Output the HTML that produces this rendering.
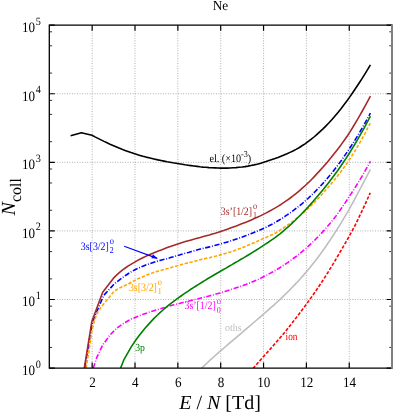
<!DOCTYPE html>
<html><head><meta charset="utf-8"><title>Ne</title>
<style>
html,body{margin:0;padding:0;background:#fff;}
svg{display:block;will-change:transform;}
text{font-family:"Liberation Serif","DejaVu Serif",serif;text-rendering:geometricPrecision;}
</style></head><body>
<svg width="393" height="415" viewBox="0 0 393 415">
<rect width="393" height="415" fill="#fff"/>
<g stroke="#8c8c8c" stroke-width="0.75" stroke-dasharray="0.9 1.625" fill="none"><line x1="92.15" y1="25.15" x2="92.15" y2="368.1"/><line x1="135.00" y1="25.15" x2="135.00" y2="368.1"/><line x1="177.85" y1="25.15" x2="177.85" y2="368.1"/><line x1="220.70" y1="25.15" x2="220.70" y2="368.1"/><line x1="263.55" y1="25.15" x2="263.55" y2="368.1"/><line x1="306.40" y1="25.15" x2="306.40" y2="368.1"/><line x1="349.25" y1="25.15" x2="349.25" y2="368.1"/><line x1="49.3" y1="299.51" x2="392.1" y2="299.51"/><line x1="49.3" y1="230.92" x2="392.1" y2="230.92"/><line x1="49.3" y1="162.33" x2="392.1" y2="162.33"/><line x1="49.3" y1="93.74" x2="392.1" y2="93.74"/></g>
<defs><clipPath id="c"><rect x="49.30" y="25.15" width="342.80" height="342.95"/></clipPath></defs>
<g fill="none" stroke-width="1.6" stroke-linejoin="round" clip-path="url(#c)">
<polyline stroke="#000000" points="70.6,135.7 81.4,132.8 92.0,135.3 95.0,136.9 98.0,138.4 101.0,139.9 104.0,141.4 107.0,142.8 110.0,144.2 113.0,145.5 116.0,146.8 119.0,148.1 122.0,149.3 125.0,150.4 128.0,151.5 131.0,152.6 134.0,153.6 137.0,154.5 140.0,155.4 143.0,156.3 146.0,157.1 149.0,157.8 152.0,158.5 155.0,159.2 158.0,159.9 161.0,160.5 164.0,161.1 167.0,161.7 170.0,162.2 173.0,162.8 176.0,163.3 179.0,163.8 182.0,164.3 185.0,164.8 188.0,165.2 191.0,165.6 194.0,166.0 197.0,166.4 200.0,166.8 203.0,167.1 206.0,167.3 209.0,167.6 212.0,167.8 215.0,167.9 218.0,168.0 221.0,168.1 224.0,168.1 227.0,168.1 230.0,168.0 233.0,167.8 236.0,167.6 239.0,167.3 242.0,167.0 245.0,166.6 248.0,166.1 251.0,165.5 254.0,164.9 257.0,164.2 260.0,163.4 263.0,162.5 266.0,161.6 269.0,160.6 272.0,159.6 275.0,158.6 278.0,157.5 281.0,156.3 284.0,155.1 287.0,153.8 290.0,152.4 293.0,151.0 296.0,149.4 299.0,147.7 302.0,145.8 305.0,143.9 308.0,141.7 311.0,139.4 314.0,137.0 317.0,134.4 320.0,131.7 323.0,128.9 326.0,125.9 329.0,122.8 332.0,119.5 335.0,116.0 338.0,112.4 341.0,108.7 344.0,104.8 347.0,100.8 350.0,96.6 353.0,92.3 356.0,87.8 359.0,83.3 362.0,78.6 365.0,73.8 368.0,68.9 370.4,64.9"/>
<polyline stroke="#0000ff" stroke-dasharray="5.2 1.7 0.9 1.7" points="84.8,368.1 92.4,322.2 103.6,295.6 113.5,284.7 116.5,282.2 119.5,279.8 122.5,277.6 125.5,275.5 128.5,273.5 131.5,271.7 134.5,270.0 137.5,268.5 140.5,267.2 143.5,266.0 146.5,264.8 149.5,263.8 152.5,262.8 155.5,261.8 158.5,260.9 161.5,260.1 164.5,259.3 167.5,258.6 170.5,257.6 173.5,256.7 176.5,255.8 179.5,254.9 182.5,254.1 185.5,253.2 188.5,252.4 191.5,251.5 194.5,250.7 197.5,249.8 200.5,249.0 203.5,248.3 206.5,247.6 209.5,246.9 212.5,246.1 215.5,245.3 218.5,244.5 221.5,243.7 224.5,242.8 227.5,241.9 230.5,241.0 233.5,240.0 236.5,239.0 239.5,238.0 242.5,236.9 245.5,235.8 248.5,234.6 251.5,233.4 254.5,232.2 257.5,231.0 260.5,229.7 263.5,228.4 266.5,227.0 269.5,225.5 272.5,224.0 275.5,222.3 278.5,220.5 281.5,218.7 284.5,216.7 287.5,214.7 290.5,212.6 293.5,210.4 296.5,208.1 299.5,205.7 302.5,203.3 305.5,200.7 308.5,198.0 311.5,195.1 314.5,192.2 317.5,189.1 320.5,186.0 323.5,182.7 326.5,179.3 329.5,175.8 332.5,172.1 335.5,168.2 338.5,164.3 341.5,160.2 344.5,155.9 347.5,151.5 350.5,147.0 353.5,142.4 356.5,137.6 359.5,132.6 362.5,127.5 365.5,122.2 368.5,116.7 370.4,113.1"/>
<polyline stroke="#ffa500" stroke-dasharray="3.3 1.7" points="86.1,368.1 89.2,349.2 91.8,331.2 94.3,321.0 97.0,313.5 100.8,307.5 108.0,298.8 113.5,292.0 116.5,289.7 119.5,287.9 122.5,286.7 125.5,285.3 128.5,283.8 131.5,282.1 134.5,280.6 137.5,279.1 140.5,277.7 143.5,276.4 146.5,275.1 149.5,274.0 152.5,272.9 155.5,271.9 158.5,271.0 161.5,270.2 164.5,269.4 167.5,268.6 170.5,267.7 173.5,266.8 176.5,266.0 179.5,265.1 182.5,264.3 185.5,263.5 188.5,262.7 191.5,262.0 194.5,261.2 197.5,260.4 200.5,259.6 203.5,259.0 206.5,258.3 209.5,257.7 212.5,256.9 215.5,256.2 218.5,255.4 221.5,254.6 224.5,253.7 227.5,252.8 230.5,251.9 233.5,250.9 236.5,249.8 239.5,248.7 242.5,247.6 245.5,246.4 248.5,245.1 251.5,243.8 254.5,242.6 257.5,241.2 260.5,239.8 263.5,238.4 266.5,237.2 269.5,235.9 272.5,234.5 275.5,233.0 278.5,231.2 281.5,229.2 284.5,227.2 287.5,225.2 290.5,223.1 293.5,220.8 296.5,218.4 299.5,216.0 302.5,213.5 305.5,210.8 308.5,208.1 311.5,205.2 314.5,202.3 317.5,199.2 320.5,196.0 323.5,192.7 326.5,189.3 329.5,185.8 332.5,182.2 335.5,178.5 338.5,174.7 341.5,170.8 344.5,166.7 347.5,162.4 350.5,158.0 353.5,153.3 356.5,148.4 359.5,143.3 362.5,137.9 365.5,132.4 368.5,126.5 370.4,122.7"/>
<polyline stroke="#ff00ff" stroke-dasharray="5.2 1.7 0.9 1.7" points="93.3,368.1 96.7,357.7 102.5,345.4 109.7,335.3 116.9,328.1 124.1,323.0 131.4,319.0 138.0,316.3 141.0,315.0 144.0,314.0 147.0,313.0 150.0,311.9 153.0,310.9 156.0,310.0 159.0,309.1 162.0,308.2 165.0,307.4 168.0,306.5 171.0,305.6 174.0,304.8 177.0,304.0 180.0,303.3 183.0,302.5 186.0,301.7 189.0,301.0 192.0,300.2 195.0,299.5 198.0,298.8 201.0,298.0 204.0,297.2 207.0,296.5 210.0,295.7 213.0,294.9 216.0,294.0 219.0,293.2 222.0,292.3 225.0,291.4 228.0,290.5 231.0,289.6 234.0,288.6 237.0,287.6 240.0,286.6 243.0,285.5 246.0,284.4 249.0,283.2 252.0,282.0 255.0,280.7 258.0,279.4 261.0,278.0 264.0,276.5 267.0,275.0 270.0,273.4 273.0,271.7 276.0,270.0 279.0,268.2 282.0,266.3 285.0,264.3 288.0,262.3 291.0,260.2 294.0,258.0 297.0,255.7 300.0,253.3 303.0,250.8 306.0,248.3 309.0,245.6 312.0,242.8 315.0,239.9 318.0,236.8 321.0,233.7 324.0,230.4 327.0,227.0 330.0,223.4 333.0,219.7 336.0,215.9 339.0,211.8 342.0,207.5 345.0,203.1 348.0,198.5 351.0,193.9 354.0,189.3 357.0,184.5 360.0,179.6 363.0,174.5 366.0,169.2 369.0,163.9 370.4,161.3"/>
<polyline stroke="#a52a2a" points="84.3,368.1 91.9,321.2 102.7,292.2 113.3,278.4 116.3,275.4 119.3,272.7 122.3,270.2 125.3,268.0 128.3,265.9 131.3,264.1 134.3,262.4 137.3,260.6 140.3,259.0 143.3,257.5 146.3,256.1 149.3,254.8 152.3,253.5 155.3,252.3 158.3,251.1 161.3,249.9 164.3,248.7 167.3,247.6 170.3,246.6 173.3,245.5 176.3,244.5 179.3,243.5 182.3,242.5 185.3,241.6 188.3,240.7 191.3,239.9 194.3,239.1 197.3,238.2 200.3,237.4 203.3,236.6 206.3,235.7 209.3,234.9 212.3,234.0 215.3,233.2 218.3,232.3 221.3,231.3 224.3,230.3 227.3,229.2 230.3,228.1 233.3,227.0 236.3,225.9 239.3,224.7 242.3,223.6 245.3,222.4 248.3,221.2 251.3,219.9 254.3,218.6 257.3,217.3 260.3,215.9 263.3,214.4 266.3,212.9 269.3,211.3 272.3,209.6 275.3,207.9 278.3,206.1 281.3,204.2 284.3,202.2 287.3,200.1 290.3,198.0 293.3,195.7 296.3,193.3 299.3,190.8 302.3,188.2 305.3,185.5 308.3,182.7 311.3,179.7 314.3,176.6 317.3,173.4 320.3,170.1 323.3,166.8 326.3,163.4 329.3,159.8 332.3,156.1 335.3,152.3 338.3,148.4 341.3,144.4 344.3,140.2 347.3,136.0 350.3,131.4 353.3,126.5 356.3,121.4 359.3,116.3 362.3,111.0 365.3,105.6 368.3,100.1 370.4,96.2"/>
<polyline stroke="#008000" points="120.6,368.1 124.1,359.3 131.4,346.6 136.0,339.8 139.0,335.8 142.0,332.0 145.0,328.3 148.0,324.9 151.0,321.6 154.0,318.4 157.0,315.5 160.0,312.7 163.0,310.0 166.0,307.4 169.0,304.9 172.0,302.6 175.0,300.3 178.0,298.1 181.0,296.0 184.0,293.9 187.0,291.8 190.0,289.8 193.0,287.9 196.0,286.0 199.0,284.1 202.0,282.2 205.0,280.4 208.0,278.5 211.0,276.8 214.0,275.0 217.0,273.2 220.0,271.5 223.0,269.8 226.0,268.1 229.0,266.3 232.0,264.6 235.0,262.8 238.0,261.1 241.0,259.3 244.0,257.6 247.0,255.8 250.0,254.0 253.0,252.1 256.0,250.3 259.0,248.4 262.0,246.4 265.0,244.4 268.0,242.5 271.0,240.4 274.0,238.3 277.0,236.1 280.0,233.8 283.0,231.3 286.0,228.7 289.0,226.1 292.0,223.3 295.0,220.5 298.0,217.5 301.0,214.5 304.0,211.4 307.0,208.2 310.0,204.9 313.0,201.6 316.0,198.1 319.0,194.6 322.0,191.0 325.0,187.3 328.0,183.5 331.0,179.6 334.0,175.6 337.0,171.5 340.0,167.2 343.0,162.8 346.0,158.4 349.0,153.7 352.0,148.9 355.0,144.0 358.0,138.9 361.0,133.7 364.0,128.3 367.0,122.7 370.0,117.0 370.4,116.2"/>
<polyline stroke="#bebebe" points="201.6,368.1 204.6,365.3 207.6,362.5 210.6,359.7 213.6,357.0 216.6,354.3 219.6,351.7 222.6,349.1 225.6,346.5 228.6,343.9 231.6,341.3 234.6,338.8 237.6,336.3 240.6,333.8 243.6,331.2 246.6,328.6 249.6,326.1 252.6,323.5 255.6,321.0 258.6,318.4 261.6,315.8 264.6,313.2 267.6,310.6 270.6,307.9 273.6,305.3 276.6,302.5 279.6,299.8 282.6,296.9 285.6,294.0 288.6,291.1 291.6,288.0 294.6,284.9 297.6,281.7 300.6,278.5 303.6,275.1 306.6,271.6 309.6,268.0 312.6,264.3 315.6,260.4 318.6,256.5 321.6,252.4 324.6,248.2 327.6,243.8 330.6,239.4 333.6,234.8 336.6,230.1 339.6,225.3 342.6,220.4 345.6,215.4 348.6,210.3 351.6,204.9 354.6,199.3 357.6,193.7 360.6,188.0 363.6,182.4 366.6,176.7 369.6,170.8 370.4,169.3"/>
<polyline stroke="#ff0000" stroke-dasharray="3.3 1.7" points="253.0,368.6 256.0,365.2 259.0,361.7 262.0,358.3 265.0,354.9 268.0,351.6 271.0,348.2 274.0,344.8 277.0,341.3 280.0,337.9 283.0,334.4 286.0,330.8 289.0,327.0 292.0,323.2 295.0,319.3 298.0,315.4 301.0,311.4 304.0,307.4 307.0,303.4 310.0,299.2 313.0,295.0 316.0,290.7 319.0,286.2 322.0,281.7 325.0,277.1 328.0,272.3 331.0,267.4 334.0,262.5 337.0,257.4 340.0,252.2 343.0,247.1 346.0,241.9 349.0,236.5 352.0,231.1 355.0,225.5 358.0,219.3 361.0,213.1 364.0,206.7 367.0,200.1 370.0,193.4 370.3,192.8"/>
</g>
<path d="M92.15 368.1v-5.5M92.15 25.15v5.5M135.00 368.1v-5.5M135.00 25.15v5.5M177.85 368.1v-5.5M177.85 25.15v5.5M220.70 368.1v-5.5M220.70 25.15v5.5M263.55 368.1v-5.5M263.55 25.15v5.5M306.40 368.1v-5.5M306.40 25.15v5.5M349.25 368.1v-5.5M349.25 25.15v5.5M49.3 368.10h5.5M392.1 368.10h-5.5M49.3 299.51h5.5M392.1 299.51h-5.5M49.3 230.92h5.5M392.1 230.92h-5.5M49.3 162.33h5.5M392.1 162.33h-5.5M49.3 93.74h5.5M392.1 93.74h-5.5M49.3 25.15h5.5M392.1 25.15h-5.5" stroke="#000" stroke-width="1.2" fill="none"/>
<path d="M49.3 347.45h2.8M392.1 347.45h-2.8M49.3 320.16h2.8M392.1 320.16h-2.8M49.3 306.16h2.8M392.1 306.16h-2.8M49.3 278.86h2.8M392.1 278.86h-2.8M49.3 251.57h2.8M392.1 251.57h-2.8M49.3 237.57h2.8M392.1 237.57h-2.8M49.3 210.27h2.8M392.1 210.27h-2.8M49.3 182.98h2.8M392.1 182.98h-2.8M49.3 168.98h2.8M392.1 168.98h-2.8M49.3 141.68h2.8M392.1 141.68h-2.8M49.3 114.39h2.8M392.1 114.39h-2.8M49.3 100.39h2.8M392.1 100.39h-2.8M49.3 73.09h2.8M392.1 73.09h-2.8M49.3 45.80h2.8M392.1 45.80h-2.8M49.3 31.80h2.8M392.1 31.80h-2.8" stroke="#000" stroke-width="0.8" fill="none"/>
<path d="M49.3 24.5V368.75M48.65 25.15H392.5M48.65 368.1H392.5" stroke="#000" stroke-width="1.3" fill="none"/>
<rect x="391" y="24.5" width="2" height="344.25" fill="#808080"/>
<text transform="translate(220.5,9.6) scale(0.965,1)" font-size="13.8" text-anchor="middle">Ne</text>
<text transform="translate(92.45,386.9) scale(0.91,1)" font-size="14.4" text-anchor="middle">2</text>
<text transform="translate(135.30,386.9) scale(0.91,1)" font-size="14.4" text-anchor="middle">4</text>
<text transform="translate(178.15,386.9) scale(0.91,1)" font-size="14.4" text-anchor="middle">6</text>
<text transform="translate(221.00,386.9) scale(0.91,1)" font-size="14.4" text-anchor="middle">8</text>
<text transform="translate(263.85,386.9) scale(0.91,1)" font-size="14.4" text-anchor="middle">10</text>
<text transform="translate(306.70,386.9) scale(0.91,1)" font-size="14.4" text-anchor="middle">12</text>
<text transform="translate(349.55,386.9) scale(0.91,1)" font-size="14.4" text-anchor="middle">14</text>
<text transform="translate(22.0,374.90) scale(0.91,1)" font-size="14.4">10<tspan font-size="11.2" dx="0.6" dy="-7.3">0</tspan></text>
<text transform="translate(22.0,306.31) scale(0.91,1)" font-size="14.4">10<tspan font-size="11.2" dx="0.6" dy="-7.3">1</tspan></text>
<text transform="translate(22.0,237.72) scale(0.91,1)" font-size="14.4">10<tspan font-size="11.2" dx="0.6" dy="-7.3">2</tspan></text>
<text transform="translate(22.0,169.13) scale(0.91,1)" font-size="14.4">10<tspan font-size="11.2" dx="0.6" dy="-7.3">3</tspan></text>
<text transform="translate(22.0,100.54) scale(0.91,1)" font-size="14.4">10<tspan font-size="11.2" dx="0.6" dy="-7.3">4</tspan></text>
<text transform="translate(22.0,31.95) scale(0.91,1)" font-size="14.4">10<tspan font-size="11.2" dx="0.6" dy="-7.3">5</tspan></text>
<text x="220" y="408.8" font-size="20" text-anchor="middle"><tspan font-style="italic">E</tspan> / <tspan font-style="italic">N</tspan> [Td]</text>
<text transform="translate(14.7,215.4) rotate(-90)" font-size="20"><tspan font-style="italic">N</tspan><tspan font-size="16" dy="6.1">coll</tspan></text>
<text transform="translate(80.8,249.9) scale(0.875,1)" font-size="11.3" fill="#0000ff">3s[3/2]<tspan font-size="9.6" dx="1.0" dy="-5.5">o</tspan><tspan font-size="9.0" dx="-4.7" dy="8.7">2</tspan></text>
<text transform="translate(128.9,290.8) scale(0.875,1)" font-size="11.3" fill="#ffa500">3s[3/2]<tspan font-size="9.6" dx="1.0" dy="-5.5">o</tspan><tspan font-size="9.0" dx="-4.7" dy="8.7">1</tspan></text>
<text transform="translate(220.8,214.6) scale(0.875,1)" font-size="11.3" fill="#a52a2a">3s’[1/2]<tspan font-size="9.6" dx="1.0" dy="-5.5">o</tspan><tspan font-size="9.0" dx="-4.7" dy="8.7">1</tspan></text>
<text transform="translate(184.5,309.4) scale(0.875,1)" font-size="11.3" fill="#ff00ff">3s’[1/2]<tspan font-size="9.6" dx="1.0" dy="-5.5">o</tspan><tspan font-size="9.0" dx="-4.7" dy="8.7">0</tspan></text>
<text transform="translate(209.4,161.9) scale(0.9,1)" font-size="11.3" fill="#000">el. (×10<tspan font-size="9.0" dy="-5">-3</tspan><tspan dy="5">)</tspan></text>
<text transform="translate(135.2,351.1) scale(0.9,1)" font-size="10.8" fill="#008000">3p</text>
<text transform="translate(224.9,330.8) scale(0.95,1)" font-size="10.6" fill="#bebebe">oths</text>
<text transform="translate(285.6,340.1) scale(0.84,1)" font-size="11.1" fill="#ff0000">ion</text>
<path d="M124.2 246.2L157.2 258.4" stroke="#0000ff" stroke-width="1.2" fill="none"/>
<path d="M157.6 258.5l-6.2 -0.2l1.5 -4.1z" fill="#0000ff"/>
</svg>
</body></html>
